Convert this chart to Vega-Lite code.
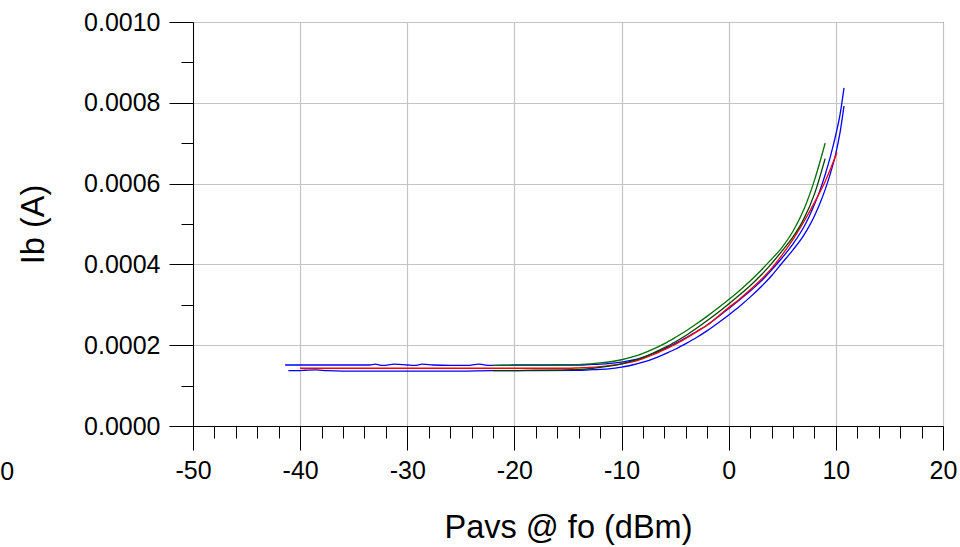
{
  "$schema": "https://vega.github.io/schema/vega-lite/v6.json",
  "width": 750,
  "height": 404,
  "autosize": {"type": "none"},
  "padding": {"left": 193, "top": 22, "right": 17, "bottom": 121},
  "background": "white",
  "config": {
    "view": {"stroke": "black", "strokeWidth": 1},
    "font": "Liberation Sans",
    "axis": {
      "labelFont": "Liberation Sans",
      "labelFontSize": 25,
      "labelColor": "black",
      "titleFont": "Liberation Sans",
      "titleFontSize": 32.5,
      "titleFontWeight": "normal",
      "titleColor": "black",
      "domainColor": "black",
      "domainWidth": 1,
      "tickColor": "black",
      "tickWidth": 1,
      "gridColor": "#c4c4c4",
      "gridWidth": 1.2,
      "labelFlush": false,
      "labelOverlap": false
    }
  },
  "datasets": {
    "curves": [
      {"series": "s1", "pavs": -41.4, "ib": 0.000151},
      {"series": "s1", "pavs": -39, "ib": 0.000151},
      {"series": "s1", "pavs": -37, "ib": 0.000151},
      {"series": "s1", "pavs": -35, "ib": 0.000151},
      {"series": "s1", "pavs": -33.5, "ib": 0.000151},
      {"series": "s1", "pavs": -33, "ib": 0.000153},
      {"series": "s1", "pavs": -32.3, "ib": 0.00015},
      {"series": "s1", "pavs": -31.2, "ib": 0.000153},
      {"series": "s1", "pavs": -30, "ib": 0.000151},
      {"series": "s1", "pavs": -29.3, "ib": 0.00015},
      {"series": "s1", "pavs": -28.6, "ib": 0.000153},
      {"series": "s1", "pavs": -27.6, "ib": 0.000151},
      {"series": "s1", "pavs": -26, "ib": 0.00015},
      {"series": "s1", "pavs": -24.5, "ib": 0.00015},
      {"series": "s1", "pavs": -23.3, "ib": 0.000153},
      {"series": "s1", "pavs": -22.3, "ib": 0.00015},
      {"series": "s1", "pavs": -20, "ib": 0.000151},
      {"series": "s1", "pavs": -18, "ib": 0.000151},
      {"series": "s1", "pavs": -16, "ib": 0.000151},
      {"series": "s1", "pavs": -14, "ib": 0.000151},
      {"series": "s1", "pavs": -13, "ib": 0.000152},
      {"series": "s1", "pavs": -12, "ib": 0.000153},
      {"series": "s1", "pavs": -11, "ib": 0.000155},
      {"series": "s1", "pavs": -10, "ib": 0.000158},
      {"series": "s1", "pavs": -9, "ib": 0.000163},
      {"series": "s1", "pavs": -8, "ib": 0.00017},
      {"series": "s1", "pavs": -7, "ib": 0.00018},
      {"series": "s1", "pavs": -6, "ib": 0.000191},
      {"series": "s1", "pavs": -5, "ib": 0.000204},
      {"series": "s1", "pavs": -4, "ib": 0.000218},
      {"series": "s1", "pavs": -3, "ib": 0.000234},
      {"series": "s1", "pavs": -2, "ib": 0.00025},
      {"series": "s1", "pavs": -1, "ib": 0.00027},
      {"series": "s1", "pavs": 0, "ib": 0.000291},
      {"series": "s1", "pavs": 1, "ib": 0.000312},
      {"series": "s1", "pavs": 2, "ib": 0.000334},
      {"series": "s1", "pavs": 3, "ib": 0.000358},
      {"series": "s1", "pavs": 4, "ib": 0.000386},
      {"series": "s1", "pavs": 5, "ib": 0.000417},
      {"series": "s1", "pavs": 6, "ib": 0.000451},
      {"series": "s1", "pavs": 7, "ib": 0.000492},
      {"series": "s1", "pavs": 7.5, "ib": 0.000518},
      {"series": "s1", "pavs": 8, "ib": 0.000548},
      {"series": "s1", "pavs": 8.5, "ib": 0.000582},
      {"series": "s1", "pavs": 9, "ib": 0.000622},
      {"series": "s1", "pavs": 9.5, "ib": 0.000668},
      {"series": "s1", "pavs": 10, "ib": 0.000722},
      {"series": "s1", "pavs": 10.4, "ib": 0.000772},
      {"series": "s1", "pavs": 10.76, "ib": 0.000837},

      {"series": "s2", "pavs": -41.1, "ib": 0.000137},
      {"series": "s2", "pavs": -40.2, "ib": 0.000137},
      {"series": "s2", "pavs": -39.5, "ib": 0.000138},
      {"series": "s2", "pavs": -38.5, "ib": 0.000139},
      {"series": "s2", "pavs": -37.5, "ib": 0.000137},
      {"series": "s2", "pavs": -36, "ib": 0.000136},
      {"series": "s2", "pavs": -30, "ib": 0.000136},
      {"series": "s2", "pavs": -25, "ib": 0.000136},
      {"series": "s2", "pavs": -22, "ib": 0.000137},
      {"series": "s2", "pavs": -18, "ib": 0.000137},
      {"series": "s2", "pavs": -14, "ib": 0.000138},
      {"series": "s2", "pavs": -13, "ib": 0.000139},
      {"series": "s2", "pavs": -12, "ib": 0.00014},
      {"series": "s2", "pavs": -11, "ib": 0.000142},
      {"series": "s2", "pavs": -10, "ib": 0.000146},
      {"series": "s2", "pavs": -9, "ib": 0.000151},
      {"series": "s2", "pavs": -8, "ib": 0.000158},
      {"series": "s2", "pavs": -7, "ib": 0.000167},
      {"series": "s2", "pavs": -6, "ib": 0.000178},
      {"series": "s2", "pavs": -5, "ib": 0.00019},
      {"series": "s2", "pavs": -4, "ib": 0.000204},
      {"series": "s2", "pavs": -3, "ib": 0.000219},
      {"series": "s2", "pavs": -2, "ib": 0.000236},
      {"series": "s2", "pavs": -1, "ib": 0.000255},
      {"series": "s2", "pavs": 0, "ib": 0.000275},
      {"series": "s2", "pavs": 1, "ib": 0.000296},
      {"series": "s2", "pavs": 2, "ib": 0.000319},
      {"series": "s2", "pavs": 3, "ib": 0.000344},
      {"series": "s2", "pavs": 4, "ib": 0.000372},
      {"series": "s2", "pavs": 5, "ib": 0.000404},
      {"series": "s2", "pavs": 6, "ib": 0.000436},
      {"series": "s2", "pavs": 7, "ib": 0.000472},
      {"series": "s2", "pavs": 7.5, "ib": 0.000494},
      {"series": "s2", "pavs": 8, "ib": 0.00052},
      {"series": "s2", "pavs": 8.5, "ib": 0.00055},
      {"series": "s2", "pavs": 9, "ib": 0.000585},
      {"series": "s2", "pavs": 9.5, "ib": 0.000626},
      {"series": "s2", "pavs": 10, "ib": 0.000675},
      {"series": "s2", "pavs": 10.4, "ib": 0.000728},
      {"series": "s2", "pavs": 10.76, "ib": 0.000792},

      {"series": "s3", "pavs": -40, "ib": 0.000143},
      {"series": "s3", "pavs": -30, "ib": 0.000143},
      {"series": "s3", "pavs": -20, "ib": 0.000143},
      {"series": "s3", "pavs": -15, "ib": 0.000143},
      {"series": "s3", "pavs": -14, "ib": 0.000144},
      {"series": "s3", "pavs": -13, "ib": 0.000145},
      {"series": "s3", "pavs": -12, "ib": 0.000147},
      {"series": "s3", "pavs": -11, "ib": 0.00015},
      {"series": "s3", "pavs": -10, "ib": 0.000154},
      {"series": "s3", "pavs": -9, "ib": 0.000159},
      {"series": "s3", "pavs": -8, "ib": 0.000167},
      {"series": "s3", "pavs": -7, "ib": 0.000177},
      {"series": "s3", "pavs": -6, "ib": 0.000189},
      {"series": "s3", "pavs": -5, "ib": 0.000202},
      {"series": "s3", "pavs": -4, "ib": 0.000217},
      {"series": "s3", "pavs": -3, "ib": 0.000233},
      {"series": "s3", "pavs": -2, "ib": 0.00025},
      {"series": "s3", "pavs": -1, "ib": 0.000271},
      {"series": "s3", "pavs": 0, "ib": 0.000293},
      {"series": "s3", "pavs": 1, "ib": 0.000314},
      {"series": "s3", "pavs": 2, "ib": 0.000337},
      {"series": "s3", "pavs": 3, "ib": 0.000362},
      {"series": "s3", "pavs": 4, "ib": 0.00039},
      {"series": "s3", "pavs": 5, "ib": 0.000424},
      {"series": "s3", "pavs": 6, "ib": 0.000462},
      {"series": "s3", "pavs": 7, "ib": 0.000505},
      {"series": "s3", "pavs": 8, "ib": 0.000553},
      {"series": "s3", "pavs": 9, "ib": 0.000605},
      {"series": "s3", "pavs": 10, "ib": 0.00067},
      {"series": "s3", "pavs": 10.1, "ib": 0.000677},

      {"series": "s4", "pavs": -22, "ib": 0.00015},
      {"series": "s4", "pavs": -20, "ib": 0.00015},
      {"series": "s4", "pavs": -18, "ib": 0.00015},
      {"series": "s4", "pavs": -16, "ib": 0.000151},
      {"series": "s4", "pavs": -14, "ib": 0.000152},
      {"series": "s4", "pavs": -13, "ib": 0.000154},
      {"series": "s4", "pavs": -12, "ib": 0.000156},
      {"series": "s4", "pavs": -11, "ib": 0.000159},
      {"series": "s4", "pavs": -10, "ib": 0.000164},
      {"series": "s4", "pavs": -9, "ib": 0.000171},
      {"series": "s4", "pavs": -8, "ib": 0.00018},
      {"series": "s4", "pavs": -7, "ib": 0.000191},
      {"series": "s4", "pavs": -6, "ib": 0.000204},
      {"series": "s4", "pavs": -5, "ib": 0.000219},
      {"series": "s4", "pavs": -4, "ib": 0.000235},
      {"series": "s4", "pavs": -3, "ib": 0.000253},
      {"series": "s4", "pavs": -2, "ib": 0.000272},
      {"series": "s4", "pavs": -1, "ib": 0.000292},
      {"series": "s4", "pavs": 0, "ib": 0.000313},
      {"series": "s4", "pavs": 1, "ib": 0.000335},
      {"series": "s4", "pavs": 2, "ib": 0.000359},
      {"series": "s4", "pavs": 3, "ib": 0.000385},
      {"series": "s4", "pavs": 4, "ib": 0.000413},
      {"series": "s4", "pavs": 5, "ib": 0.000443},
      {"series": "s4", "pavs": 6, "ib": 0.000482},
      {"series": "s4", "pavs": 7, "ib": 0.000535},
      {"series": "s4", "pavs": 8, "ib": 0.000608},
      {"series": "s4", "pavs": 9, "ib": 0.0007},

      {"series": "s5", "pavs": -22, "ib": 0.000137},
      {"series": "s5", "pavs": -20, "ib": 0.000137},
      {"series": "s5", "pavs": -18, "ib": 0.000138},
      {"series": "s5", "pavs": -16, "ib": 0.000138},
      {"series": "s5", "pavs": -14, "ib": 0.00014},
      {"series": "s5", "pavs": -13, "ib": 0.000142},
      {"series": "s5", "pavs": -12, "ib": 0.000145},
      {"series": "s5", "pavs": -11, "ib": 0.000149},
      {"series": "s5", "pavs": -10, "ib": 0.000154},
      {"series": "s5", "pavs": -9, "ib": 0.000161},
      {"series": "s5", "pavs": -8, "ib": 0.00017},
      {"series": "s5", "pavs": -7, "ib": 0.000181},
      {"series": "s5", "pavs": -6, "ib": 0.000194},
      {"series": "s5", "pavs": -5, "ib": 0.000208},
      {"series": "s5", "pavs": -4, "ib": 0.000224},
      {"series": "s5", "pavs": -3, "ib": 0.000242},
      {"series": "s5", "pavs": -2, "ib": 0.000261},
      {"series": "s5", "pavs": -1, "ib": 0.000281},
      {"series": "s5", "pavs": 0, "ib": 0.000302},
      {"series": "s5", "pavs": 1, "ib": 0.000324},
      {"series": "s5", "pavs": 2, "ib": 0.000347},
      {"series": "s5", "pavs": 3, "ib": 0.000373},
      {"series": "s5", "pavs": 4, "ib": 0.000402},
      {"series": "s5", "pavs": 5, "ib": 0.000434},
      {"series": "s5", "pavs": 6, "ib": 0.000468},
      {"series": "s5", "pavs": 7, "ib": 0.000512},
      {"series": "s5", "pavs": 8, "ib": 0.000574},
      {"series": "s5", "pavs": 9, "ib": 0.000662}
    ],
    "stray": [
      {"pavs": -67.35, "ib": -0.000113, "label": "0"}
    ]
  },
  "layer": [
    {
      "data": {"name": "curves"},
      "mark": {"type": "line", "strokeWidth": 1.3, "interpolate": "monotone"},
      "encoding": {
        "x": {
          "field": "pavs",
          "type": "quantitative",
          "scale": {"domain": [-50, 20], "nice": false, "zero": false},
          "axis": {
            "orient": "bottom",
            "values": [-50, -40, -30, -20, -10, 0, 10, 20],
            "labelExpr": "'' + datum.value",
            "tickSize": 24,
            "labelPadding": 8,
            "grid": true,
            "title": "Pavs @ fo (dBm)",
            "titlePadding": 28
          }
        },
        "y": {
          "field": "ib",
          "type": "quantitative",
          "scale": {"domain": [0, 0.001], "nice": false, "zero": false},
          "axis": {
            "orient": "left",
            "values": [0, 0.0002, 0.0004, 0.0006, 0.0008, 0.001],
            "format": ".4f",
            "tickSize": 24,
            "labelPadding": 9,
            "grid": true,
            "title": "Ib (A)",
            "titlePadding": 33
          }
        },
        "color": {
          "field": "series",
          "type": "nominal",
          "scale": {
            "domain": ["s1", "s2", "s3", "s4", "s5"],
            "range": ["#0000ff", "#0000ff", "#ff0000", "#007000", "#004000"]
          },
          "legend": null
        }
      }
    },
    {
      "data": {"name": "stray"},
      "mark": {"type": "text", "fontSize": 25, "font": "Liberation Sans", "color": "black", "baseline": "middle", "align": "center", "clip": false},
      "encoding": {
        "x": {
          "field": "pavs",
          "type": "quantitative",
          "scale": {"domain": [-50, 20], "nice": false, "zero": false},
          "axis": {
            "orient": "bottom",
            "values": [-48, -46, -44, -42, -38, -36, -34, -32, -28, -26, -24, -22, -18, -16, -14, -12, -8, -6, -4, -2, 2, 4, 6, 8, 12, 14, 16, 18],
            "tickSize": 12,
            "labels": false,
            "domain": false,
            "grid": false,
            "title": null
          }
        },
        "y": {
          "field": "ib",
          "type": "quantitative",
          "scale": {"domain": [0, 0.001], "nice": false, "zero": false},
          "axis": {
            "orient": "left",
            "values": [0.0001, 0.0003, 0.0005, 0.0007, 0.0009],
            "tickSize": 12,
            "labels": false,
            "domain": false,
            "grid": false,
            "title": null
          }
        },
        "text": {"field": "label", "type": "nominal"}
      }
    }
  ],
  "resolve": {"axis": {"x": "independent", "y": "independent"}}
}
